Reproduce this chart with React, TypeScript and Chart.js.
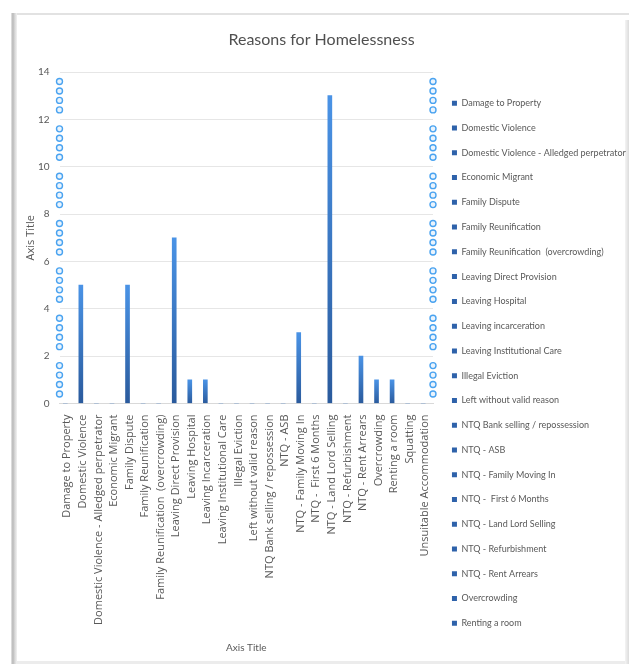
import React, { useEffect, useRef } from 'react';
import { Chart, registerables } from 'chart.js';

Chart.register(...registerables);

const chartTitle = 'Reasons for Homelessness';

const categories = [
  'Damage to Property',
  'Domestic Violence',
  'Domestic Violence - Alledged perpetrator',
  'Economic Migrant',
  'Family Dispute',
  'Family Reunification',
  'Family Reunification  (overcrowding)',
  'Leaving Direct Provision',
  'Leaving Hospital',
  'Leaving Incarceration',
  'Leaving Institutional Care',
  'Illegal Eviction',
  'Left without valid reason',
  'NTQ Bank selling / repossession',
  'NTQ - ASB',
  'NTQ - Family Moving In',
  'NTQ -  First 6 Months',
  'NTQ - Land Lord Selling',
  'NTQ - Refurbishment',
  'NTQ - Rent Arrears',
  'Overcrowding',
  'Renting a room',
  'Squatting',
  'Unsuitable Accommodation',
];

const counts = [0, 5, 0, 0, 5, 0, 0, 7, 1, 1, 0, 0, 0, 0, 0, 3, 0, 13, 0, 2, 1, 1, 0, 0];

const legendLabels = [
  'Damage to Property',
  'Domestic Violence',
  'Domestic Violence - Alledged perpetrator',
  'Economic Migrant',
  'Family Dispute',
  'Family Reunification',
  'Family Reunification  (overcrowding)',
  'Leaving Direct Provision',
  'Leaving Hospital',
  'Leaving incarceration',
  'Leaving Institutional Care',
  'Illegal Eviction',
  'Left without valid reason',
  'NTQ Bank selling / repossession',
  'NTQ - ASB',
  'NTQ - Family Moving In',
  'NTQ -  First 6 Months',
  'NTQ - Land Lord Selling',
  'NTQ - Refurbishment',
  'NTQ - Rent Arrears',
  'Overcrowding',
  'Renting a room',
];

const yTicks = [0, 2, 4, 6, 8, 10, 12, 14];

// handle-marker levels along the plot edges
const markerLevels = [
  0.4, 0.8, 1.2, 1.6, 2.4, 2.8, 3.2, 3.6, 4.4, 4.8, 5.2, 5.6, 6.4, 6.8, 7.2, 7.6,
  8.4, 8.8, 9.2, 9.6, 10.4, 10.8, 11.2, 11.6, 12.4, 12.8, 13.2, 13.6,
];
const markerEdges = [0, 1];

const GRAY = '#595959';

export default function App() {
  const ref = useRef<HTMLCanvasElement | null>(null);

  useEffect(() => {
    if (!ref.current) return;
    const markerPoints: { x: number; y: number }[] = [];
    markerEdges.forEach((e) => markerLevels.forEach((v) => markerPoints.push({ x: e, y: v })));

    const chart = new Chart(ref.current, {
      type: 'bar',
      data: {
        labels: categories,
        datasets: [
          {
            type: 'bar',
            label: 'Count',
            data: counts,
            xAxisID: 'x',
            yAxisID: 'y',
            barThickness: 4,
            borderWidth: 0,
            backgroundColor: (ctx: any) => {
              const c = ctx.chart;
              if (!c.chartArea || ctx.type !== 'data') return '#3a78c8';
              const v = ctx.parsed ? ctx.parsed.y : 0;
              const yTop = c.scales.y.getPixelForValue(v);
              const yBot = c.scales.y.getPixelForValue(0);
              if (!(yBot - yTop > 1)) return '#3a78c8';
              const g = c.ctx.createLinearGradient(0, yTop, 0, yBot);
              g.addColorStop(0, '#4a93e6');
              g.addColorStop(1, '#2a5a9c');
              return g;
            },
          } as any,
          {
            type: 'scatter',
            label: 'markers',
            data: markerPoints,
            xAxisID: 'xc',
            yAxisID: 'y',
            pointRadius: 3,
            pointBorderWidth: 1.4,
            pointBorderColor: '#4aa3f0',
            pointBackgroundColor: '#eaf4fd',
            showLine: false,
            clip: false,
          } as any,
        ],
      },
      options: {
        responsive: false,
        animation: false,
        events: [],
        layout: { padding: 0 },
        scales: {
          x: {
            type: 'category',
            position: 'bottom',
            offset: true,
            grid: { display: false, drawTicks: false },
            border: { display: true, color: '#d9d9d9', width: 1 },
            ticks: {
              autoSkip: false,
              maxRotation: 90,
              minRotation: 90,
              padding: 11,
              color: GRAY,
              font: { family: 'Open Sans', size: 11 },
            },
            title: {
              display: true,
              text: 'Axis Title',
              color: GRAY,
              font: { family: 'Lato', size: 10 },
              padding: { top: 0, bottom: 8 },
            },
            afterFit: (s: any) => {
              s.height = 258.5;
            },
          },
          xc: {
            type: 'linear',
            display: false,
            offset: false,
            grid: { offset: false },
            min: 0,
            max: 1,
          },
          y: {
            type: 'linear',
            position: 'left',
            min: 0,
            max: 14,
            afterBuildTicks: (s: any) => {
              s.ticks = yTicks.map((v) => ({ value: v }));
            },
            grid: { color: '#e6e6e6', lineWidth: 1, drawTicks: false },
            border: { display: false },
            ticks: {
              padding: 10,
              color: GRAY,
              font: { family: 'Lato', size: 10 },
            },
            title: {
              display: true,
              text: 'Axis Title',
              color: GRAY,
              font: { family: 'Open Sans', size: 11 },
              padding: { top: 7, bottom: 0 },
            },
            afterFit: (s: any) => {
              s.width = 42.5;
            },
          },
          y2: {
            type: 'linear',
            position: 'right',
            display: true,
            grid: { display: false, drawTicks: false },
            border: { display: false },
            ticks: { display: false },
            afterFit: (s: any) => {
              s.width = 3.2;
            },
          },
        },
        plugins: {
          title: {
            display: true,
            text: chartTitle,
            color: '#505050',
            font: { family: 'Lato', size: 16, weight: 'normal' },
            padding: { top: 15.4, bottom: 22.4 },
          },
          legend: {
            display: true,
            position: 'right',
            align: 'start',
            maxWidth: 189.8,
            title: {
              display: true,
              text: ' ',
              font: { family: 'Lato', size: 10 },
              padding: { top: 56.04, bottom: 0 },
            },
            labels: {
              boxWidth: 5,
              boxHeight: 5,
              padding: 15.76,
              color: GRAY,
              font: { family: 'Lato', size: 9 },
              generateLabels: () =>
                legendLabels.map((t, i) => ({
                  text: t,
                  fillStyle: '#2e62aa',
                  strokeStyle: '#2e62aa',
                  lineWidth: 0,
                  hidden: false,
                  index: i,
                  datasetIndex: 0,
                  fontColor: GRAY,
                })),
            },
          },
          tooltip: { enabled: false },
        },
      } as any,
    });
    return () => chart.destroy();
  }, []);

  return (
    <div style={{ position: 'absolute', left: 0, top: 0, width: 629, height: 664, background: '#ffffff', overflow: 'hidden' }}>
      <div style={{ position: 'absolute', left: 11, top: 13, width: 618, height: 2, background: '#e2e2e2' }} />
      <div
        style={{
          position: 'absolute',
          left: 11,
          top: 13,
          width: 6,
          height: 651,
          background: 'linear-gradient(to right, #e8e8e8, #b8b8b8 30%, #d4d4d4 60%, #f2f2f2)',
        }}
      />
      <div
        style={{
          position: 'absolute',
          left: 625,
          top: 20,
          width: 4,
          height: 644,
          background: 'linear-gradient(to right, #f4f4f4, #dcdcdc)',
        }}
      />
      <div style={{ position: 'absolute', left: 17, top: 661, width: 608, height: 3, background: '#ececec' }} />
      <canvas
        ref={ref}
        width={609}
        height={647}
        style={{ position: 'absolute', left: 17, top: 15, width: 609, height: 647, display: 'block' }}
      />
    </div>
  );
}
